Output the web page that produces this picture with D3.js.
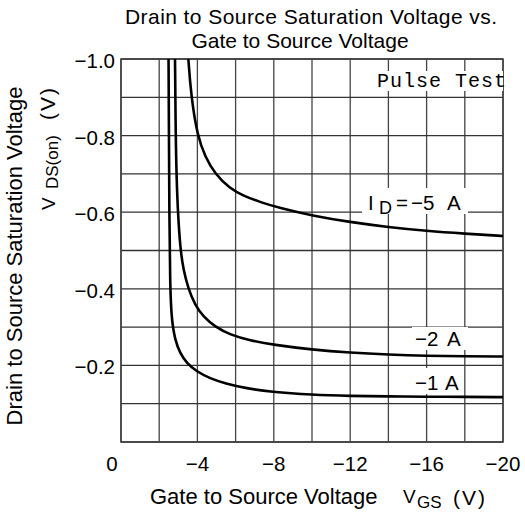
<!DOCTYPE html>
<html><head><meta charset="utf-8">
<script src="https://cdn.jsdelivr.net/npm/d3@7"></script>
<style>body{margin:0;background:#fff}svg{display:block}</style>
</head><body>
<svg id="c" width="525" height="517"></svg>
<script>
// Data (VGS in V, VDS(on) in V)
const xTicks = [0, -4, -8, -12, -16, -20];
const yTicks = [-1.0, -0.8, -0.6, -0.4, -0.2];
const curve5A_vgs = [-3.50, -3.52, -3.68, -4.0, -4.4, -4.92, -5.7, -6.4, -7.3, -8.3, -10.0, -12.0, -14.0, -16.0, -18.0, -20.0, -20.2];
const curve5A_vds = [-1.03, -1.0, -0.9, -0.8, -0.745, -0.70, -0.662, -0.643, -0.626, -0.611, -0.591, -0.574, -0.561, -0.551, -0.544, -0.538, -0.537];
const curve2A_vgs = [-2.82, -2.83, -2.86, -2.93, -3.02, -3.12, -3.27, -3.52, -3.87, -4.31, -4.92, -5.71, -6.75, -7.97, -10.0, -12.0, -14.0, -16.0, -18.0, -20.0, -20.2];
const curve2A_vds = [-1.03, -1.0, -0.8, -0.65, -0.567, -0.50, -0.449, -0.401, -0.358, -0.327, -0.301, -0.280, -0.265, -0.254, -0.241, -0.233, -0.228, -0.225, -0.224, -0.223, -0.223];
const curve1A_vgs = [-2.485, -2.49, -2.51, -2.53, -2.57, -2.65, -2.83, -3.09, -3.44, -3.96, -4.66, -5.45, -6.58, -7.8, -10.0, -12.0, -14.0, -16.0, -18.0, -20.0, -20.2];
const curve1A_vds = [-1.03, -1.0, -0.8, -0.6, -0.405, -0.319, -0.266, -0.232, -0.206, -0.184, -0.166, -0.153, -0.140, -0.131, -0.123, -0.120, -0.119, -0.118, -0.118, -0.117, -0.117];

const svg = d3.select("#c");
const L = 121, R = 503, T = 59, B = 442;
const x = d3.scaleLinear().domain([0, -20]).range([L, R]);
const y = d3.scaleLinear().domain([0, -1.0]).range([B, T]);
const font = "'Liberation Sans', Arial, Helvetica, sans-serif";
const mono = "'Liberation Mono', 'Courier New', monospace";

// grid
const g = svg.append("g");
g.selectAll("line.v").data(d3.range(0, -20.01, -2)).join("line")
  .attr("x1", d => x(d)).attr("x2", d => x(d)).attr("y1", T).attr("y2", B)
  .attr("stroke", "#444").attr("stroke-width", 1.3);
g.selectAll("line.h").data(d3.range(0, -1.001, -0.1)).join("line")
  .attr("y1", d => y(d)).attr("y2", d => y(d)).attr("x1", L).attr("x2", R)
  .attr("stroke", "#333").attr("stroke-width", 1.3);
svg.append("rect").attr("x", L).attr("y", T).attr("width", R - L).attr("height", B - T)
  .attr("fill", "none").attr("stroke", "#444").attr("stroke-width", 1.6);

// tick labels
svg.append("g").selectAll("text").data(xTicks).join("text")
  .attr("x", d => d === 0 ? x(d) - 9 : x(d)).attr("y", 471)
  .attr("text-anchor", "middle").attr("font-family", font).attr("font-size", 20.5)
  .text(d => d === 0 ? "0" : "\u2212" + Math.abs(d));
svg.append("g").selectAll("text").data(yTicks).join("text")
  .attr("x", 115).attr("y", d => y(d) + 9)
  .attr("text-anchor", "end").attr("font-family", font).attr("font-size", 20.5)
  .text(d => "\u2212" + Math.abs(d).toFixed(1));

// curves
const line = d3.line().x(d => x(d[0])).y(d => y(d[1])).curve(d3.curveBasis);
const series = [
  d3.zip(curve5A_vgs, curve5A_vds),
  d3.zip(curve2A_vgs, curve2A_vds),
  d3.zip(curve1A_vgs, curve1A_vds)
];
svg.append("clipPath").attr("id", "pc").append("rect")
  .attr("x", L).attr("y", T).attr("width", R - L).attr("height", B - T);
svg.append("g").attr("clip-path", "url(#pc)").selectAll("path").data(series).join("path")
  .attr("d", line).attr("fill", "none").attr("stroke", "#000").attr("stroke-width", 2.6);

// curve labels with white boxes
function boxed(parts, box) {
  svg.append("rect").attr("x", box[0]).attr("y", box[1]).attr("width", box[2] - box[0])
    .attr("height", box[3] - box[1]).attr("fill", "#fff");
  const t = svg.append("text").attr("font-family", font);
  parts.forEach(p => t.append("tspan").attr("x", p[1]).attr("y", p[2])
    .attr("font-size", p[3]).text(p[0]));
}
boxed([["I", 368, 210, 20.5], ["D", 379, 214, 18], ["=", 396, 210, 20.5], ["\u22125", 411, 210, 20.5], ["A", 447, 210, 20.5]],
  [362, 188, 468, 214]);
boxed([["\u22122", 415, 346, 20.5], ["A", 447, 346, 20.5]], [412, 327, 468, 350]);
boxed([["\u22121", 415, 390, 20.5], ["A", 445, 390, 20.5]], [412, 368, 464, 394]);

// Pulse test
svg.append("rect").attr("x", 375).attr("y", 71).attr("width", 128).attr("height", 20).attr("fill", "#fff");
svg.append("text").attr("x", 377).attr("y", 87)
  .attr("font-family", mono).attr("font-size", 20).attr("textLength", 129)
  .text("Pulse Test");

// titles
svg.append("text").attr("x", 311).attr("y", 23.5).attr("text-anchor", "middle")
  .attr("font-family", font).attr("font-size", 21).attr("textLength", 372)
  .text("Drain to Source Saturation Voltage vs.");
svg.append("text").attr("x", 300).attr("y", 47.5).attr("text-anchor", "middle")
  .attr("font-family", font).attr("font-size", 21).text("Gate to Source Voltage");

// x axis title
{
  const t = svg.append("text").attr("font-family", font);
  t.append("tspan").attr("x", 150).attr("y", 504).attr("font-size", 22).text("Gate to Source Voltage");
  t.append("tspan").attr("x", 403).attr("y", 503).attr("font-size", 19).text("V");
  t.append("tspan").attr("x", 417).attr("y", 508).attr("font-size", 17).text("GS");
  t.append("tspan").attr("x", 453).attr("y", 505).attr("font-size", 21).attr("letter-spacing", 2).text("(V)");
}
// y axis title
svg.append("text").attr("transform", "translate(22,256) rotate(-90)").attr("text-anchor", "middle")
  .attr("font-family", font).attr("font-size", 22).text("Drain to Source Saturation Voltage");
{
  const t = svg.append("text").attr("transform", "rotate(-90)").attr("font-family", font);
  t.append("tspan").attr("x", -210).attr("y", 55).attr("font-size", 19).text("V");
  t.append("tspan").attr("x", -189).attr("y", 58).attr("font-size", 17).text("DS(on)");
  t.append("tspan").attr("x", -120).attr("y", 55).attr("font-size", 21).attr("letter-spacing", 2).text("(V)");
}
</script>
</body></html>
